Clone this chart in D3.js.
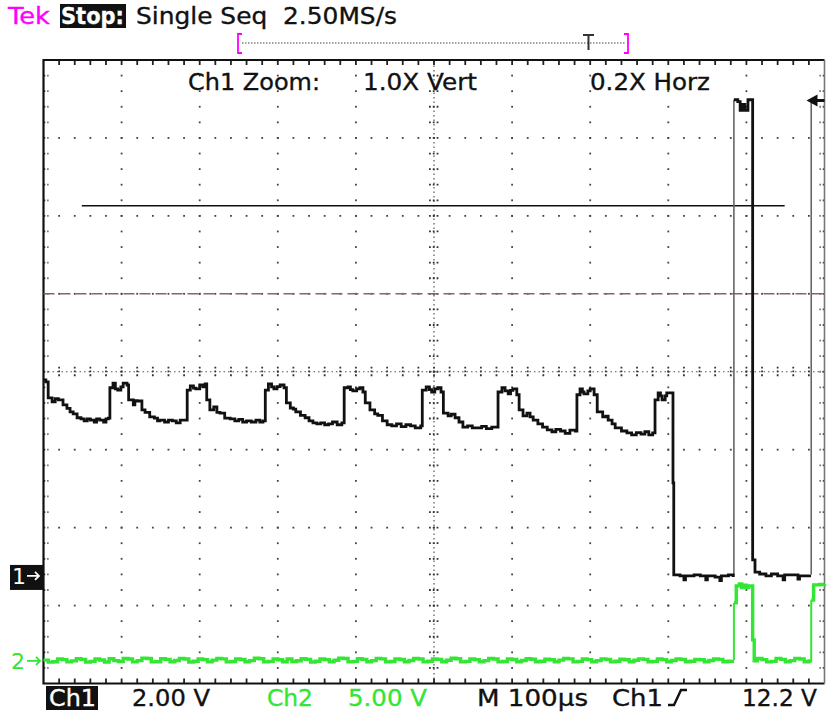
<!DOCTYPE html>
<html>
<head>
<meta charset="utf-8">
<script src="https://cdn.jsdelivr.net/npm/d3@7"></script>
<style>
  body { margin: 0; background: #fff; }
  svg { display: block; font-family: "DejaVu Sans", Verdana, sans-serif; }
  text { white-space: pre; }
</style>
</head>
<body>
<svg width="827" height="713"></svg>
<script>
// scope settings
const timePerDiv = 100;      // µs
const ch1VoltsPerDiv = 2;
const ch2VoltsPerDiv = 5;
const ch1Position = -2.62;   // divisions
const ch2Position = -3.71;
const triggerLevel = 12.2;   // V
const cursorLevel = 9.5;     // V, horizontal cursor on ch1
const cursorSpan = [49, 949];
const dashedLevel = 1;       // divisions

// ch1: [time µs, volts]
const ch1Points = [
  [0, 5.03], [3, 4.98], [6, 4.57], [11, 4.47], [15, 4.55], [19, 4.52], [25, 4.39], [30, 4.3], [34, 4.21], [38, 4.16], [43, 4.06],
  [48, 4.03], [52, 3.98], [56, 4.03], [60, 4.0], [65, 3.95], [68, 4.03], [72, 4.0], [77, 3.95], [80, 4.03], [83, 4.05],
  [85, 4.83], [89, 4.95], [92, 4.8], [95, 4.77], [99, 4.85], [102, 4.95], [107, 4.90], [109, 4.52], [115, 4.39], [117, 4.5], [120, 4.49], [126, 4.26], [130, 4.2], [136, 4.08],
  [142, 4.05], [146, 3.98], [149, 4.0], [155, 3.95], [160, 4.0], [165, 3.98], [170, 3.93], [175, 4.0], [181, 4.0],
  [184, 4.77], [188, 4.88], [192, 4.82], [195, 4.80], [200, 4.90], [204, 4.85], [207, 4.93], [209, 4.52], [213, 4.26], [218, 4.34], [222, 4.2], [226, 4.18], [232, 4.05], [239, 4.03],
  [245, 3.98], [250, 4.02], [255, 3.95], [260, 3.98], [266, 3.95], [272, 4.0], [277, 3.95], [281, 3.98],
  [284, 4.77], [288, 4.93], [292, 4.85], [295, 4.80], [299, 4.86], [303, 4.90], [308, 4.83], [311, 4.44], [316, 4.31], [320, 4.28], [323, 4.21], [329, 4.12], [335, 4.06], [340, 3.98], [345, 3.93],
  [350, 3.9], [355, 3.93], [360, 3.88], [365, 3.90], [370, 3.95], [376, 3.88], [382, 3.93],
  [385, 4.83], [390, 4.85], [393, 4.78], [396, 4.75], [401, 4.8], [405, 4.83], [409, 4.72], [412, 4.44], [418, 4.26], [424, 4.16], [428, 4.12], [434, 3.98], [440, 3.88],
  [446, 3.85], [452, 3.9], [458, 3.83], [464, 3.88], [470, 3.85], [476, 3.8], [483, 3.85],
  [485, 4.77], [490, 4.85], [494, 4.78], [497, 4.72], [501, 4.8], [505, 4.83], [509, 4.72], [512, 4.18], [518, 4.11], [522, 4.15], [527, 4.06], [532, 3.95], [537, 3.82],
  [543, 3.85], [549, 3.8], [555, 3.80], [561, 3.84], [567, 3.78], [574, 3.82],
  [582, 4.72], [587, 4.83], [591, 4.75], [595, 4.67], [598, 4.76], [601, 4.80], [606, 4.65], [609, 4.26], [614, 4.11], [619, 4.18], [623, 4.08], [627, 4.0], [633, 3.9], [639, 3.82], [645, 3.75],
  [651, 3.7], [656, 3.76], [662, 3.72], [668, 3.66], [674, 3.74], [681, 3.72],
  [683, 4.65], [687, 4.80], [690, 4.72], [692, 4.67], [697, 4.75], [700, 4.80], [705, 4.65], [709, 4.21], [716, 4.08], [720, 4.1], [723, 4.0], [728, 3.9], [732, 3.80], [740, 3.72], [747, 3.67],
  [753, 3.62], [759, 3.68], [765, 3.64], [770, 3.7], [775, 3.62], [780, 3.67],
  [783, 4.52], [787, 4.70], [790, 4.62], [792, 4.52], [796, 4.62], [798, 4.70], [803, 4.70], [806, 2.39], [807, 0.03],
  [815, 0.0], [820, -0.1], [822, 0.0], [833, 0.03], [841, 0.0], [848, -0.1], [850, 0.0], [860, -0.03], [866, -0.12], [868, 0.0], [877, 0.03], [883, -0.03],
  [884, 12.22], [889, 12.17], [892, 11.95], [895, 12.1], [898, 11.95], [902, 12.22], [907, 12.22], [908, 0.41], [911, 0.10], [917, 0.05],
  [925, 0.0], [932, 0.05], [940, 0.0], [947, -0.1], [949, 0.03], [960, 0.03], [966, -0.08], [968, 0.0], [981, 0.03],
  [983, 12.17], [988, 12.17]
];

// ch2: [time µs, volts]
const ch2Points = [
  [0, 0.05], [6, -0.08], [12, -0.05], [18, 0.12], [24, 0.08], [30, -0.06], [36, 0.0], [42, 0.14], [48, 0.1], [54, -0.08], [60, -0.03],
  [66, 0.12], [72, 0.06], [78, -0.07], [84, 0.14], [90, 0.02], [96, -0.04], [102, 0.16], [108, 0.12], [114, -0.06], [120, 0.02],
  [126, 0.18], [132, 0.15], [138, -0.06], [144, -0.05], [150, 0.14], [156, 0.1], [162, -0.05], [168, 0.03], [174, 0.16], [180, 0.12],
  [186, -0.07], [192, -0.02], [198, 0.12], [204, 0.08], [210, -0.06], [216, 0.05], [222, 0.16], [228, 0.13], [234, -0.06], [240, -0.04],
  [246, 0.12], [252, 0.09], [258, -0.05], [264, 0.02], [270, 0.17], [276, 0.14], [282, -0.06], [288, -0.03], [294, 0.12], [300, 0.07],
  [306, -0.05], [312, 0.12], [318, -0.04], [324, 0.01], [330, 0.14], [336, 0.1], [342, -0.07], [348, -0.02], [354, 0.12], [360, 0.08],
  [366, -0.05], [372, 0.04], [378, 0.18], [384, 0.15], [390, -0.06], [396, -0.03], [402, 0.14], [408, 0.1], [414, -0.05], [420, 0.02],
  [426, 0.16], [432, 0.13], [438, -0.06], [444, -0.04], [450, 0.12], [456, 0.09], [462, -0.05], [468, 0.03], [474, 0.15], [480, 0.12],
  [486, -0.06], [492, -0.02], [498, 0.13], [504, 0.1], [510, -0.05], [516, 0.04], [522, 0.17], [528, 0.14], [534, -0.06], [540, -0.03],
  [546, 0.12], [552, 0.08], [558, -0.05], [564, 0.02], [570, 0.15], [576, 0.12], [582, -0.06], [588, -0.04], [594, 0.12], [600, 0.09],
  [606, -0.05], [612, 0.03], [618, 0.14], [624, 0.11], [630, -0.05], [636, -0.02], [642, 0.11], [648, 0.07], [654, -0.05], [660, 0.05],
  [666, 0.15], [672, 0.13], [678, -0.06], [684, -0.03], [690, 0.12], [696, 0.08], [702, -0.05], [708, 0.02], [714, 0.13], [720, 0.1],
  [726, -0.06], [732, -0.02], [738, 0.11], [744, 0.07], [750, -0.05], [756, 0.04], [762, 0.13], [768, 0.1], [774, -0.05], [780, -0.03],
  [786, 0.12], [792, 0.08], [798, -0.05], [804, 0.03], [810, 0.13], [816, 0.1], [822, -0.05], [828, -0.02], [834, 0.1], [840, 0.07],
  [846, -0.05], [852, 0.03], [858, 0.12], [864, 0.1], [870, -0.05], [876, -0.02], [882, 0.05],
  [884, 3.72], [887, 4.81], [891, 4.94], [894, 4.7], [897, 4.85], [900, 4.7], [903, 4.81], [907, 4.81], [908, 1.35], [910, 0.0],
  [914, 0.15], [920, 0.08], [926, -0.06], [932, -0.03], [938, 0.16], [944, 0.1], [950, -0.05], [956, 0.02], [962, 0.16], [968, 0.12], [974, -0.05], [980, 0.0], [982, 0.05],
  [983, 3.9], [986, 4.88], [994, 4.9], [1000, 4.94]
];

const statusTop = ['Tek', 'Stop:', 'Single Seq  2.50MS/s'];
const zoomLabels = ['Ch1 Zoom:', '1.0X Vert', '0.2X Horz'];
const statusBottom = ['Ch1', '2.00 V', 'Ch2', '5.00 V', 'M 100µs', 'Ch1', '12.2 V'];

const svg = d3.select('svg');
const width = +svg.attr('width');
const height = +svg.attr('height');
const margin = {top: 60, right: 2.5, bottom: 29.5, left: 43.5};

const green = '#33e633';
const magenta = '#ff00ff';

const xScale = d3.scaleLinear()
    .domain([0, 10 * timePerDiv])
    .range([margin.left, width - margin.right]);

// divisions
const divY = d3.scaleLinear()
    .domain([-4, 4])
    .range([height - margin.bottom, margin.top]);
const divX = d3.scaleLinear()
    .domain([0, 10])
    .range(xScale.range());

const yCh1 = d3.scaleLinear()
    .domain([(-4 - ch1Position) * ch1VoltsPerDiv, (4 - ch1Position) * ch1VoltsPerDiv])
    .range(divY.range());
const yCh2 = d3.scaleLinear()
    .domain([(-4 - ch2Position) * ch2VoltsPerDiv, (4 - ch2Position) * ch2VoltsPerDiv])
    .range(divY.range());

svg.append('rect').attr('width', width).attr('height', height).attr('fill', '#fff');

// graticule
const grid = svg.append('g');
const minorX = d3.range(1, 50).map(i => i / 5);
const minorY = d3.range(-19, 20).map(i => i / 5);

// dotted major lines
d3.range(1, 10).filter(i => i !== 5).forEach(i => {
  grid.selectAll(null).data(minorY).enter().append('rect')
      .attr('x', divX(i) - 0.9).attr('y', d => divY(d) - 0.9)
      .attr('width', 1.8).attr('height', 1.8).attr('fill', '#444');
});
d3.range(-3, 4).filter(j => j !== 0).forEach(j => {
  grid.selectAll(null).data(minorX).enter().append('rect')
      .attr('x', d => divX(d) - 0.9).attr('y', divY(j) - 0.9)
      .attr('width', 1.8).attr('height', 1.8).attr('fill', '#444');
});

// centre lines with cross ticks
grid.append('line')
    .attr('x1', divX(0)).attr('x2', divX(10))
    .attr('y1', divY(0)).attr('y2', divY(0))
    .attr('stroke', '#555').attr('stroke-width', 1.2).attr('stroke-dasharray', '1.5,3');
grid.append('line')
    .attr('x1', divX(5)).attr('x2', divX(5))
    .attr('y1', divY(-4)).attr('y2', divY(4))
    .attr('stroke', '#555').attr('stroke-width', 1.2).attr('stroke-dasharray', '1.5,3');
grid.selectAll(null).data(minorX).enter().append('line')
    .attr('x1', d => divX(d)).attr('x2', d => divX(d))
    .attr('y1', divY(0) - 5).attr('y2', divY(0) + 5)
    .attr('stroke', '#333').attr('stroke-width', 1.8).attr('stroke-dasharray', '1.8,2');
grid.selectAll(null).data(minorY).enter().append('line')
    .attr('y1', d => divY(d)).attr('y2', d => divY(d))
    .attr('x1', divX(5) - 5).attr('x2', divX(5) + 5)
    .attr('stroke', '#333').attr('stroke-width', 1.8).attr('stroke-dasharray', '1.8,2');

// border ticks
grid.selectAll(null).data(minorX).enter().append('line')
    .attr('x1', d => divX(d)).attr('x2', d => divX(d))
    .attr('y1', divY(4)).attr('y2', divY(4) + 5)
    .attr('stroke', '#222').attr('stroke-width', 1.8);
grid.selectAll(null).data(minorX).enter().append('line')
    .attr('x1', d => divX(d)).attr('x2', d => divX(d))
    .attr('y1', divY(-4)).attr('y2', divY(-4) - 5)
    .attr('stroke', '#222').attr('stroke-width', 1.8);
grid.selectAll(null).data(minorY).enter().append('line')
    .attr('y1', d => divY(d)).attr('y2', d => divY(d))
    .attr('x1', divX(0)).attr('x2', divX(0) + 5)
    .attr('stroke', '#444').attr('stroke-width', 1.8).attr('stroke-dasharray', '1.8,2');
grid.selectAll(null).data(minorY).enter().append('line')
    .attr('y1', d => divY(d)).attr('y2', d => divY(d))
    .attr('x1', divX(10)).attr('x2', divX(10) - 5)
    .attr('stroke', '#444').attr('stroke-width', 1.8).attr('stroke-dasharray', '1.8,2');

// frame
grid.append('path')
    .attr('d', `M${divX(10)},${divY(4)}H${divX(0)}V${divY(-4)}H${divX(10)}`)
    .attr('fill', 'none').attr('stroke', '#111').attr('stroke-width', 2.2);
grid.append('line')
    .attr('x1', divX(10)).attr('x2', divX(10)).attr('y1', divY(4)).attr('y2', divY(-4))
    .attr('stroke', '#777').attr('stroke-width', 1.6);

// dashed level and horizontal cursor
svg.append('line')
    .attr('x1', divX(0)).attr('x2', divX(10))
    .attr('y1', divY(dashedLevel)).attr('y2', divY(dashedLevel))
    .attr('stroke', '#8a6363').attr('stroke-width', 1.5).attr('stroke-dasharray', '11,5');
svg.append('line')
    .attr('x1', xScale(cursorSpan[0])).attr('x2', xScale(cursorSpan[1]))
    .attr('y1', yCh1(cursorLevel)).attr('y2', yCh1(cursorLevel))
    .attr('stroke', '#111').attr('stroke-width', 1.6);

// waveforms: fast rising edges are thin and grey, the rest thick, sampled look
const drawTrace = (points, yScale, color, edgeColor, widthThick, widthThin) => {
  const line = d3.line().x(d => xScale(d[0])).y(d => yScale(d[1]));
  const stepLine = d3.line().curve(d3.curveStepAfter).x(d => xScale(d[0])).y(d => yScale(d[1]));
  const g = svg.append('g').attr('fill', 'none').attr('stroke-linejoin', 'miter');
  let run = [points[0]];
  const runs = [];
  const edges = [];
  for (let i = 1; i < points.length; i++) {
    const p = points[i - 1], q = points[i];
    const fastRise = q[1] - p[1] > 2 && q[0] - p[0] < 4;
    if (fastRise) {
      runs.push(run);
      edges.push([[q[0], p[1]], q]);
      run = [q];
    } else {
      run.push(q);
    }
  }
  runs.push(run);
  g.selectAll(null).data(edges).enter().append('path')
      .attr('d', line).attr('stroke', edgeColor).attr('stroke-width', widthThin);
  g.selectAll(null).data(runs).enter().append('path')
      .attr('d', stepLine).attr('stroke', color).attr('stroke-width', widthThick);
};
drawTrace(ch2Points, yCh2, green, green, 3.4, 2);
drawTrace(ch1Points, yCh1, '#111', '#666', 2.8, 1.6);

// channel ground markers
const m1 = svg.append('g').attr('transform', `translate(0, ${yCh1(0)})`);
m1.append('rect').attr('x', 10).attr('y', -11).attr('width', 33).attr('height', 25).attr('fill', '#111');
m1.append('text').attr('x', 12).attr('y', 8).attr('fill', '#fff').attr('font-size', 22).text('1');
m1.append('path').attr('d', 'M27,0H39M35,-4L39,0L35,4').attr('fill', 'none').attr('stroke', '#fff').attr('stroke-width', 1.8);
const m2 = svg.append('g').attr('transform', `translate(0, ${yCh2(0)})`);
m2.append('text').attr('x', 11).attr('y', 8).attr('fill', green).attr('font-size', 22).text('2');
m2.append('path').attr('d', 'M27,0H40M36,-4L40,0L36,4').attr('fill', 'none').attr('stroke', green).attr('stroke-width', 1.8);

// trigger level arrow on the right
svg.append('path')
    .attr('transform', `translate(${divX(10) - 18}, ${yCh1(triggerLevel)})`)
    .attr('d', 'M0,0L11,-6V-1.5H18V1.5H11V6Z')
    .attr('fill', '#111');

// text helper: screen font is narrow and heavy
const label = (g, x, y, str, len, color) => g.append('text')
    .attr('x', x).attr('y', y).attr('fill', color)
    .attr('stroke', color).attr('stroke-width', 0.35)
    .attr('textLength', len).attr('lengthAdjust', 'spacingAndGlyphs')
    .text(str);

// top status line
const topLine = svg.append('g').attr('font-size', 23);
label(topLine, 8, 24, statusTop[0], 42, magenta);
topLine.append('rect').attr('x', 60).attr('y', 4).attr('width', 66).attr('height', 24).attr('fill', '#111');
label(topLine, 61, 24, statusTop[1], 63, '#fff').attr('font-weight', 'bold');
label(topLine, 136, 24, statusTop[2], 261, '#111');

// record view bar
const rec = svg.append('g');
rec.append('line').attr('x1', 242).attr('x2', 625).attr('y1', 43).attr('y2', 43)
    .attr('stroke', '#444').attr('stroke-width', 1.2).attr('stroke-dasharray', '1.5,1.5');
rec.append('path').attr('d', 'M242,34H238V53H242').attr('fill', 'none').attr('stroke', magenta).attr('stroke-width', 1.8);
rec.append('path').attr('d', 'M624,34H628V53H624').attr('fill', 'none').attr('stroke', magenta).attr('stroke-width', 1.8);
rec.append('path').attr('d', 'M583,35H594M588.5,35V50').attr('fill', 'none').attr('stroke', '#333').attr('stroke-width', 2);

// zoom labels inside graticule
const zl = svg.append('g').attr('font-size', 23);
label(zl, 188, 90, zoomLabels[0], 132, '#111');
label(zl, 363, 90, zoomLabels[1], 114, '#111');
label(zl, 590, 90, zoomLabels[2], 120, '#111');

// bottom status line
const bot = svg.append('g').attr('font-size', 23);
bot.append('rect').attr('x', 46).attr('y', 686).attr('width', 52).attr('height', 24).attr('fill', '#111');
label(bot, 49, 706, statusBottom[0], 47, '#fff');
label(bot, 132, 706, statusBottom[1], 78, '#111');
label(bot, 267, 706, statusBottom[2], 46, green);
label(bot, 348, 706, statusBottom[3], 79, green);
label(bot, 477, 706, statusBottom[4], 111, '#111');
label(bot, 612, 706, statusBottom[5], 51, '#111');
bot.append('path').attr('d', 'M668,705H674L681,690H687').attr('fill', 'none').attr('stroke', '#111').attr('stroke-width', 2.4);
label(bot, 742, 706, statusBottom[6], 75, '#111');
</script>
</body>
</html>
